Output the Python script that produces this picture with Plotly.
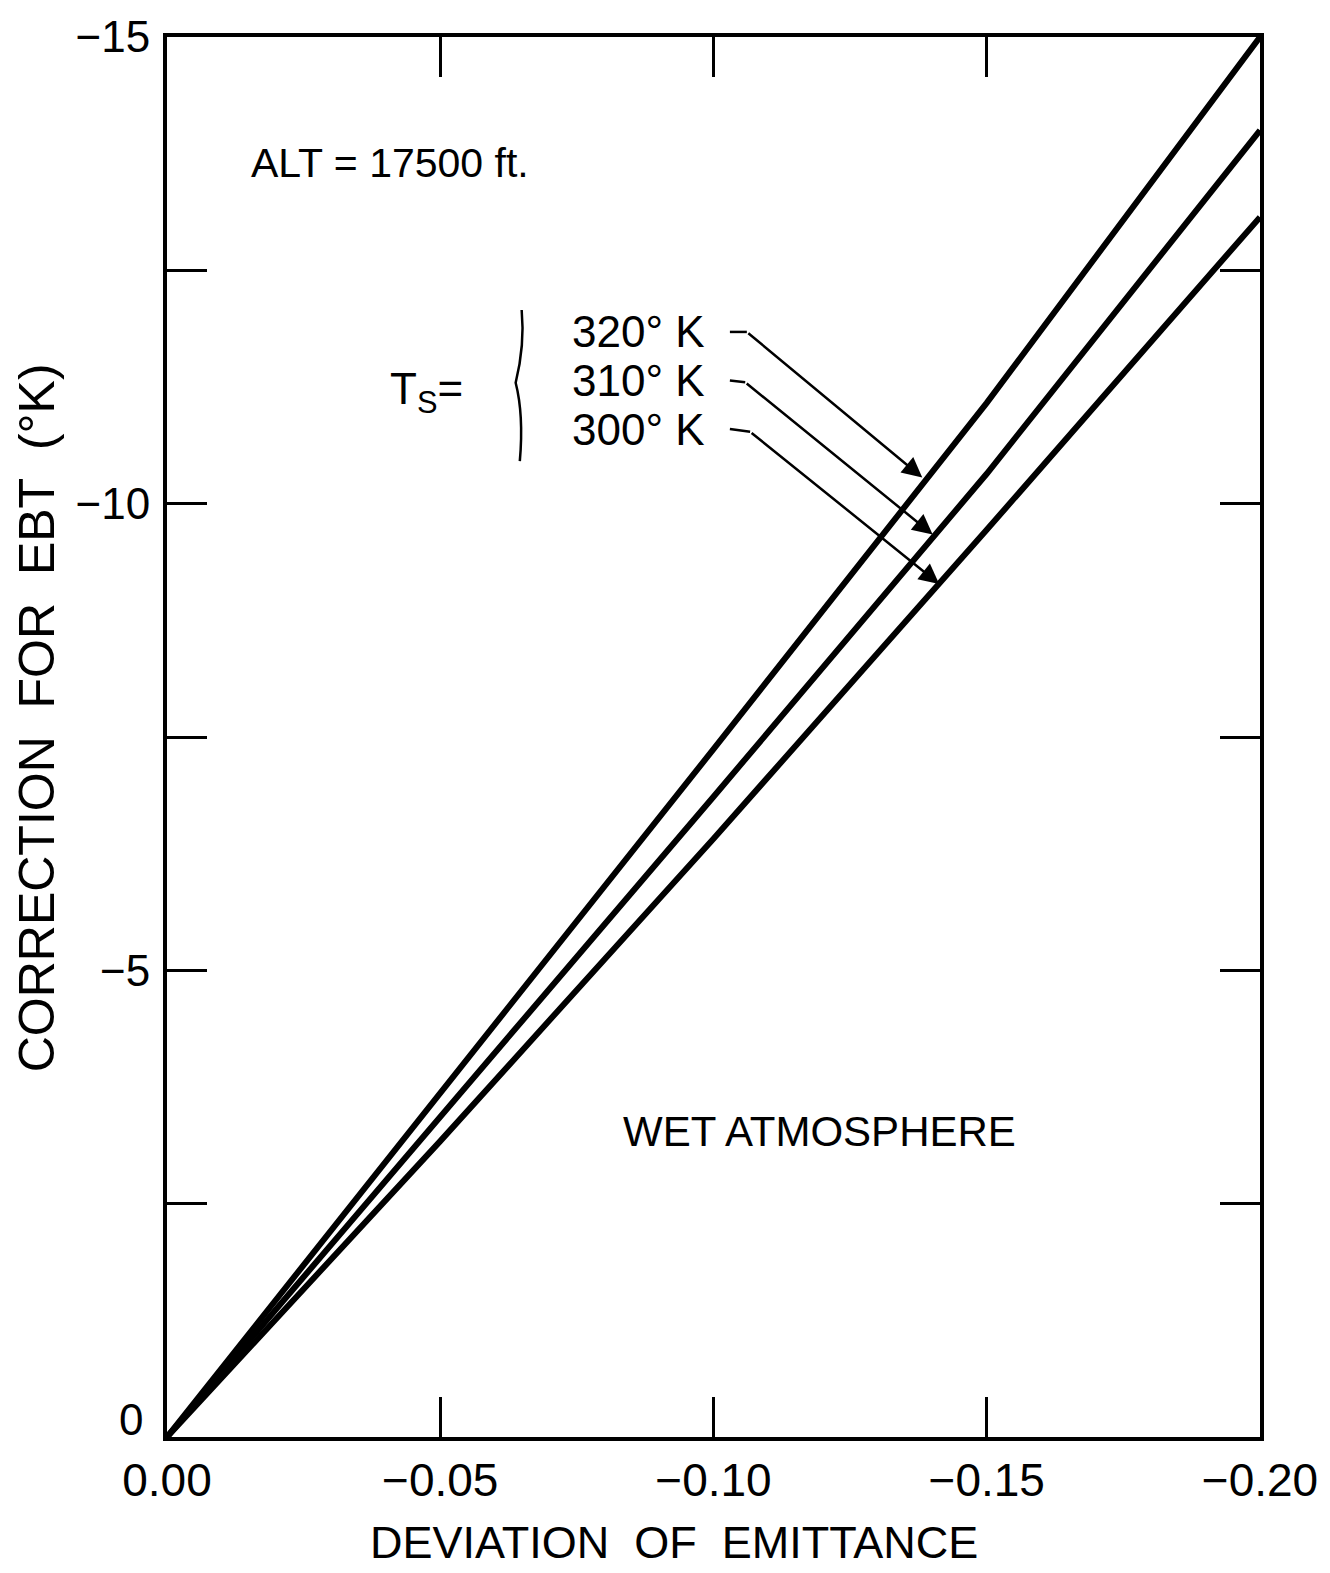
import plotly.graph_objects as go

# Deviation of emittance (x) and EBT correction (deg K) for each surface temperature
emittance_dev = [0.0, -0.05, -0.10, -0.15, -0.20]
corr_320K = [0.0, -3.68, -7.37, -11.08, -15.0]
corr_310K = [0.0, -3.43, -6.86, -10.32, -14.0]
corr_300K = [0.0, -3.17, -6.41, -9.72, -13.07]

series_names = ["320° K", "310° K", "300° K"]
series_values = [corr_320K, corr_310K, corr_300K]

x_tickvals = [0.0, -0.05, -0.10, -0.15, -0.20]
x_ticktext = ["0.00", "\u22120.05", "\u22120.10", "\u22120.15", "\u22120.20"]
y_tickvals = [0.0, -2.5, -5.0, -7.5, -10.0, -12.5, -15.0]
y_ticktext = ["", "", "\u22125", "", "\u221210", "", "\u221215"]
y_origin_label = "0"

FONT = "Liberation Sans"
INK = "black"

fig = go.Figure()
for name, vals in zip(series_names, series_values):
    fig.add_trace(go.Scatter(
        x=emittance_dev, y=vals, mode="lines", name=name,
        line=dict(color=INK, width=6), showlegend=False,
    ))

annotations = [
    dict(x=-0.0150, y=-13.65, text="ALT = 17500 ft.", xanchor="left", yanchor="middle",
         showarrow=False, font=dict(size=41)),
    dict(x=-0.0405, y=-11.2, text="T<sub>S</sub>=", xanchor="left", yanchor="middle",
         showarrow=False, font=dict(size=44)),
    dict(x=-0.0830, y=-3.27, text="WET ATMOSPHERE", xanchor="left", yanchor="middle",
         showarrow=False, font=dict(size=42)),
    # origin label of the y axis sits a little above the corner
    dict(x=0.0, y=0.0, text=y_origin_label, xanchor="right", yanchor="middle",
         xshift=-22, yshift=18, showarrow=False, font=dict(size=44)),
]

# Temperature labels with bent leader arrows pointing at each curve
label_y = [-11.84, -11.32, -10.80]
bend_x = [-0.1061, -0.1058, -0.1067]
bend_y = [-11.84, -11.30, -10.77]
tip_x = [-0.1382, -0.1401, -0.1413]
tip_y = [-10.28, -9.67, -9.14]

shapes = []
for name, ly, bx, by, tx, ty in zip(series_names, label_y, bend_x, bend_y, tip_x, tip_y):
    annotations.append(dict(x=-0.0738, y=ly, text=name, xanchor="left", yanchor="middle",
                            showarrow=False, font=dict(size=44)))
    shapes.append(dict(type="line", xref="x", yref="y", x0=-0.1030, y0=ly, x1=bx, y1=by,
                       line=dict(color=INK, width=2.5)))
    annotations.append(dict(x=tx, y=ty, ax=bx, ay=by, axref="x", ayref="y", text="",
                            showarrow=True, arrowhead=2, arrowsize=1.6, arrowwidth=2.5,
                            arrowcolor=INK))

# Brace grouping the temperature labels
shapes.append(dict(type="path", xref="paper", yref="paper",
                   path="M 0.3245,0.805 Q 0.3275,0.78 0.3190,0.753 Q 0.3265,0.73 0.3228,0.697",
                   line=dict(color=INK, width=2.5)))

# Axis titles
annotations.append(dict(x=0.4635, y=-0.075, xref="paper", yref="paper",
                        text="DEVIATION\u00a0\u00a0OF\u00a0\u00a0EMITTANCE",
                        showarrow=False, xanchor="center", yanchor="middle",
                        font=dict(size=45)))
annotations.append(dict(x=-0.119, y=0.514, xref="paper", yref="paper",
                        text="CORRECTION\u00a0\u00a0FOR\u00a0\u00a0EBT\u00a0\u00a0(°K)",
                        showarrow=False, textangle=-90, xanchor="center", yanchor="middle",
                        font=dict(size=50)))

axis_common = dict(
    showline=True, linecolor=INK, linewidth=4, mirror="ticks",
    ticks="inside", ticklen=40, tickwidth=3, tickcolor=INK,
    showgrid=False, zeroline=False,
)

fig.update_layout(
    width=1330, height=1573,
    margin=dict(l=167, r=67, t=32, b=136),
    paper_bgcolor="white", plot_bgcolor="white",
    font=dict(family=FONT, color=INK),
    xaxis=dict(range=[0.0, -0.20], tickvals=x_tickvals, ticktext=x_ticktext,
               ticklabelstandoff=0, tickfont=dict(family=FONT, size=46, color=INK),
               **axis_common),
    yaxis=dict(range=[0.0, -15.0], tickvals=y_tickvals, ticktext=y_ticktext,
               ticklabelstandoff=4, tickfont=dict(family=FONT, size=44, color=INK),
               **axis_common),
    annotations=annotations,
    shapes=shapes,
)

fig.write_html("out.html")
